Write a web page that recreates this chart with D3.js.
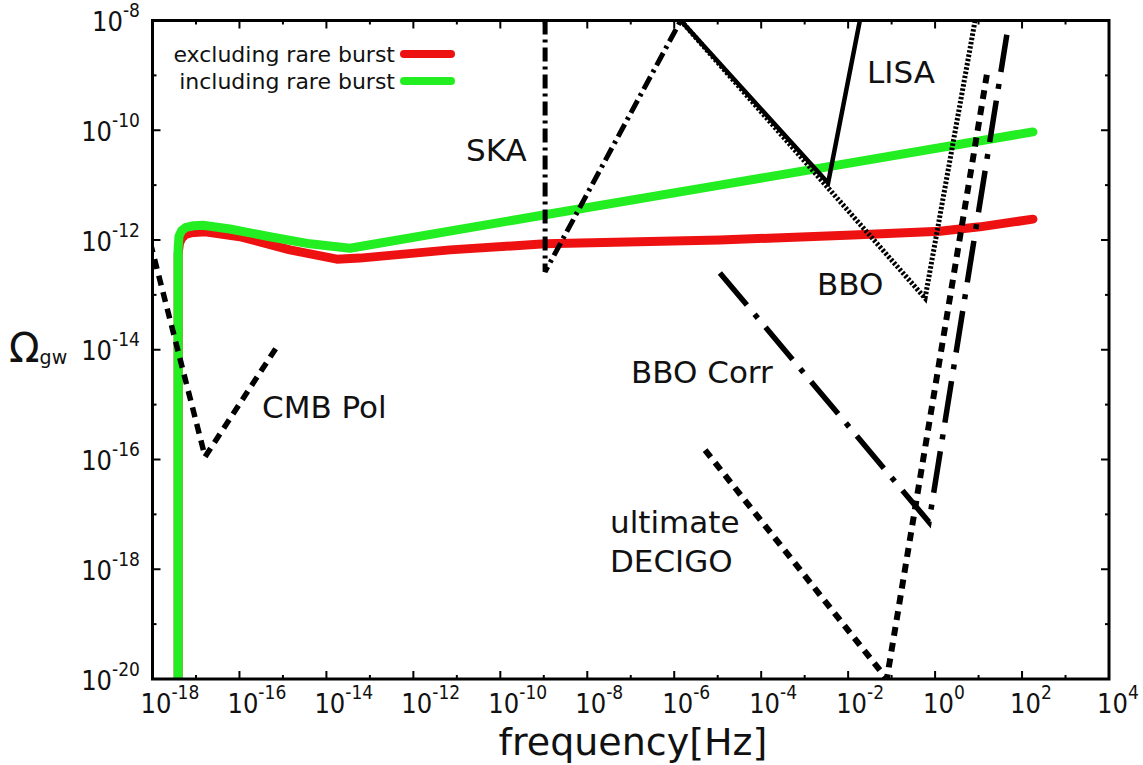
<!DOCTYPE html>
<html><head><meta charset="utf-8">
<script src="https://cdn.jsdelivr.net/npm/d3@7"></script>
<style>
html,body{margin:0;padding:0;background:#fff;}
svg{display:block;}
</style>
</head><body>
<svg id="chart" width="1143" height="765"></svg>
<script>
// ---- data (log10 values) ----
const xTickExps = [-18,-16,-14,-12,-10,-8,-6,-4,-2,0,2,4];
const yTickExps = [-8,-10,-12,-14,-16,-18,-20];
const xMinorExps = [-17,-15,-13,-11,-9,-7,-5,-3,-1,1,3];
const yMinorExps = [-9,-11,-13,-15,-17,-19];

const seriesNames = ["excluding rare burst","including rare burst"];

const redLogF = [-17.41,-17.41,-17.38,-17.33,-17.24,-17.12,-16.79,-15.99,-14.84,-13.76,-13.23,-11.16,-8.97,-4.95,-1.89,0.11,1.03,2.25];
const redLogO = [-20.0,-12.25,-12.06,-11.97,-11.90,-11.87,-11.85,-11.94,-12.18,-12.35,-12.33,-12.18,-12.07,-12.0,-11.91,-11.84,-11.76,-11.62];

const greenLogF = [-17.41,-17.41,-17.39,-17.33,-17.23,-17.05,-16.84,-16.22,-15.30,-14.38,-13.46,-8.97,-4.95,2.25];
const greenLogO = [-20.0,-12.15,-11.93,-11.83,-11.77,-11.74,-11.73,-11.80,-11.94,-12.07,-12.15,-11.54,-11.00,-10.03];

const cmbLogF = [-18.05,-16.79,-15.11];
const cmbLogO = [-12.05,-15.95,-13.91];
const skaLogF = [-8.97,-8.97,-5.85];
const skaLogO = [-8.0,-12.58,-8.0];
const lisaLogF = [-5.85,-2.46,-1.73];
const lisaLogO = [-8.0,-10.96,-8.0];
const bboLogF = [-5.85,-0.23,0.92];
const bboLogO = [-8.0,-13.06,-8.0];
const bboCorrLogF = [-4.95,-0.14,1.65];
const bboCorrLogO = [-12.60,-17.14,-8.26];
const decigoLogF = [-5.29,-1.11,1.19];
const decigoLogO = [-15.83,-20.0,-8.99];

const labelTexts = ["SKA","LISA","BBO","BBO Corr","ultimate","DECIGO","CMB Pol"];

// ---- layout ----
const L = 152.5, R = 1109, T = 20.5, B = 679;
const svg = d3.select("#chart");
const x = d3.scaleLog().domain([1e-18, 1e4]).range([L, R]);
const y = d3.scaleLog().domain([1e-20, 1e-8]).range([B, T]);
const P = v => Math.pow(10, v);

const defs = svg.append("defs");
defs.append("clipPath").attr("id","clip").append("rect")
  .attr("x",L).attr("y",T).attr("width",R-L).attr("height",B-T);

const line = d3.line().x(d => x(P(d[0]))).y(d => y(P(d[1])));
const zip = (a,b) => a.map((v,i)=>[v,b[i]]);

const plot = svg.append("g").attr("clip-path","url(#clip)");

// curves
plot.append("path").datum(zip(redLogF, redLogO)).attr("d", line)
  .attr("fill","none").attr("stroke","#ee1111").attr("stroke-width",9)
  .attr("stroke-linejoin","round").attr("stroke-linecap","round");
plot.append("path").datum(zip(greenLogF, greenLogO)).attr("d", line)
  .attr("fill","none").attr("stroke","#22ee22").attr("stroke-width",9)
  .attr("stroke-linejoin","round").attr("stroke-linecap","round");

// detector sensitivity curves
function det(fx, fy, dash, w){
  plot.append("path").datum(zip(fx, fy)).attr("d", line)
    .attr("fill","none").attr("stroke","#000").attr("stroke-width",w)
    .attr("stroke-dasharray", dash);
}
det(cmbLogF, cmbLogO, "10,7", 5.5);
det(skaLogF, skaLogO, "14,5,3,5", 5);
det(lisaLogF, lisaLogO, null, 4.5);
det(bboLogF, bboLogO, "2.5,1.8", 5);
det(bboCorrLogF, bboCorrLogO, "42,12,5,12", 5.5);
det(decigoLogF, decigoLogO, "9,7", 6);

// annotation labels
const ann = svg.append("g").attr("font-family","DejaVu Sans").attr("font-size",31).attr("fill","#111");
const annPos = [[466,161],[867,83],[817,295],[631,383],[610,533],[610,572],[262,418]];
labelTexts.forEach((t,i)=>{
  ann.append("text").attr("x",annPos[i][0]).attr("y",annPos[i][1]).text(t);
});

// frame
svg.append("rect").attr("x",L).attr("y",T).attr("width",R-L).attr("height",B-T)
  .attr("fill","none").attr("stroke","#000").attr("stroke-width",3);

// ticks
const tk = svg.append("g").attr("stroke","#000").attr("stroke-width",2);
xTickExps.forEach(e=>{
  const px = x(P(e));
  tk.append("line").attr("x1",px).attr("x2",px).attr("y1",B).attr("y2",B-8);
  tk.append("line").attr("x1",px).attr("x2",px).attr("y1",T).attr("y2",T+8);
});
xMinorExps.forEach(e=>{
  const px = x(P(e));
  tk.append("line").attr("x1",px).attr("x2",px).attr("y1",B).attr("y2",B-4);
  tk.append("line").attr("x1",px).attr("x2",px).attr("y1",T).attr("y2",T+4);
});
yTickExps.forEach(e=>{
  const py = y(P(e));
  tk.append("line").attr("x1",L).attr("x2",L+8).attr("y1",py).attr("y2",py);
  tk.append("line").attr("x1",R).attr("x2",R-8).attr("y1",py).attr("y2",py);
});
yMinorExps.forEach(e=>{
  const py = y(P(e));
  tk.append("line").attr("x1",L).attr("x2",L+4).attr("y1",py).attr("y2",py);
  tk.append("line").attr("x1",R).attr("x2",R-4).attr("y1",py).attr("y2",py);
});

// tick labels
const tl = svg.append("g").attr("font-family","DejaVu Sans Condensed, DejaVu Sans").attr("fill","#111");
xTickExps.forEach(e=>{
  const px = x(P(e));
  const t = tl.append("text").attr("x",px-12).attr("y",713).attr("font-size",27);
  t.append("tspan").text("10");
  t.append("tspan").attr("dy",-14).attr("font-size",19).text(String(e));
});
yTickExps.forEach(e=>{
  const py = y(P(e));
  const t = tl.append("text").attr("x",140).attr("y",py+10.5).attr("font-size",27).attr("text-anchor","end");
  t.append("tspan").text("10");
  t.append("tspan").attr("dy",-14).attr("font-size",19).text(String(e));
});

// axis titles
svg.append("text").attr("x",633).attr("y",755).attr("text-anchor","middle")
  .attr("font-family","DejaVu Sans").attr("font-size",38).attr("fill","#111").text("frequency[Hz]");
const yt = svg.append("text").attr("x",9).attr("y",362).attr("font-family","DejaVu Sans").attr("fill","#111");
yt.append("tspan").attr("font-size",40).text("Ω");
yt.append("tspan").attr("font-size",19).attr("dy",2).text("gw");

// legend
const lg = svg.append("g").attr("font-family","DejaVu Sans").attr("font-size",22).attr("fill","#111");
const legColors = ["#ee1111","#22ee22"];
seriesNames.forEach((n,i)=>{
  const ly = 54 + i*27;
  lg.append("text").attr("x",395).attr("y",ly+8).attr("text-anchor","end").text(n);
  lg.append("line").attr("x1",404).attr("x2",451).attr("y1",ly).attr("y2",ly)
    .attr("stroke",legColors[i]).attr("stroke-width",8).attr("stroke-linecap","round");
});
</script>
</body></html>
